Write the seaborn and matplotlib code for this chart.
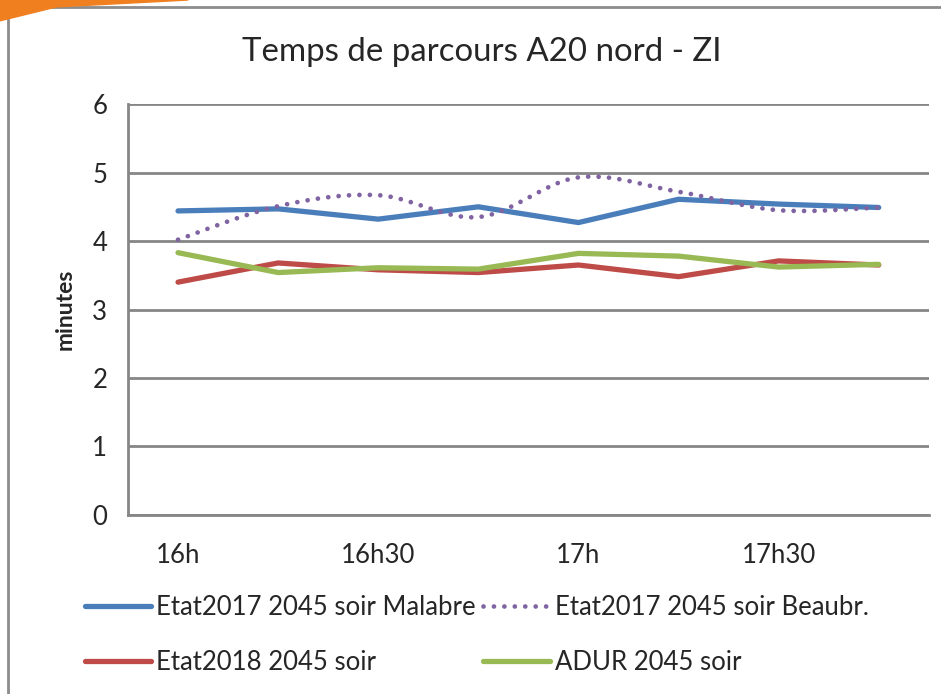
import numpy as np
import pandas as pd
import matplotlib
matplotlib.use('Agg')
import matplotlib.pyplot as plt
import matplotlib.patches as mpatches
import seaborn as sns

# Données (minutes), pas de 15 min
heures = ['16h', '16h15', '16h30', '16h45', '17h', '17h15', '17h30', '17h45']
malabre = [4.44, 4.47, 4.32, 4.50, 4.27, 4.61, 4.54, 4.49]
beaubr = [4.02, 4.51, 4.67, 4.35, 4.93, 4.72, 4.45, 4.49]
etat2018 = [3.40, 3.68, 3.58, 3.54, 3.65, 3.48, 3.71, 3.65]
adur = [3.83, 3.54, 3.61, 3.59, 3.82, 3.78, 3.62, 3.66]
etiquettes = ['16h', '16h30', '17h', '17h30']

series = ['Etat2017 2045 soir Malabre', 'Etat2017 2045 soir Beaubr.',
          'Etat2018 2045 soir', 'ADUR 2045 soir']
couleurs = ['#4A7EBB', '#8064A2', '#BE4B48', '#98B954']

sns.set_style('white')
plt.rcParams['font.family'] = ['Lato', 'DejaVu Sans']


def lissage(x, y, n=20):
    # courbe lissée type Excel (Catmull-Rom)
    x = np.asarray(x, float)
    y = np.asarray(y, float)
    px = np.concatenate([[x[0]], x, [x[-1]]])
    py = np.concatenate([[y[0]], y, [y[-1]]])
    xs, ys = [], []
    for i in range(1, len(px) - 2):
        t = np.linspace(0, 1, n)
        for p, out in ((px, xs), (py, ys)):
            p0, p1, p2, p3 = p[i - 1], p[i], p[i + 1], p[i + 2]
            out.extend(0.5 * ((2 * p1) + (-p0 + p2) * t
                              + (2 * p0 - 5 * p1 + 4 * p2 - p3) * t ** 2
                              + (-p0 + 3 * p1 - 3 * p2 + p3) * t ** 3))
    return np.array(xs), np.array(ys)


pos = np.arange(len(heures))
df = pd.DataFrame({'pos': pos, series[0]: malabre, series[1]: beaubr,
                   series[2]: etat2018, series[3]: adur})

fig = plt.figure(figsize=(9.41, 6.94), dpi=100)
ax = fig.add_axes([0.136, 0.258, 0.851, 0.592])

grid_col = '#868686'
for v in range(0, 7):
    ax.axhline(v, color=grid_col, lw=2, zorder=0)

lw = 3.8
sns.lineplot(data=df, x='pos', y=series[0], color=couleurs[0], lw=lw, ax=ax,
             label=series[0], solid_capstyle='round')
xs, ys = lissage(pos, beaubr)
sns.lineplot(x=xs, y=ys, sort=False, color=couleurs[1], lw=3.4, ax=ax,
             label=series[1], linestyle=(0, (0.01, 2.2)), dash_capstyle='round')
sns.lineplot(data=df, x='pos', y=series[2], color=couleurs[2], lw=lw, ax=ax,
             label=series[2], solid_capstyle='round')
sns.lineplot(data=df, x='pos', y=series[3], color=couleurs[3], lw=lw, ax=ax,
             label=series[3], solid_capstyle='round')

ax.set_xlim(-0.5, len(heures) - 0.5)
ax.set_ylim(0, 6)
ax.set_yticks(range(0, 7))
ax.set_xticks(np.arange(-0.5, len(heures)), minor=True)
ax.set_xticks(pos[::2])
ax.set_xticklabels(etiquettes)
ax.tick_params(axis='x', which='major', length=0, labelsize=18.5, pad=20)
ax.tick_params(axis='x', which='minor', length=8, width=2, color=grid_col,
               direction='out')
ax.tick_params(axis='y', length=8, width=2, color=grid_col, direction='out',
               labelsize=18.5, pad=7)
ax.set_xlabel('')
ax.set_ylabel('minutes', fontsize=16.5, fontweight='bold', labelpad=12)
for s in ['top', 'right']:
    ax.spines[s].set_visible(False)
for s in ['left', 'bottom']:
    ax.spines[s].set_color(grid_col)
    ax.spines[s].set_linewidth(2)

ax.legend_.remove()
handles, labels = ax.get_legend_handles_labels()
order = [0, 2, 1, 3]
fig.legend([handles[i] for i in order], [labels[i] for i in order],
           ncol=2, loc='upper left', bbox_to_anchor=(0.079, 0.157),
           frameon=False, fontsize=18.5, handlelength=2.6, handletextpad=0.18,
           columnspacing=0.3, labelspacing=1.16, borderaxespad=0)

fig.text(0.512, 0.925, 'Temps de parcours A20 nord - ZI', ha='center',
         va='center', fontsize=23.8)

# cadre du graphique
fig.patches.append(mpatches.Rectangle((0.009, -0.05), 1.1, 1.04,
                                      transform=fig.transFigure, fill=False,
                                      edgecolor='#8C8C8C', lw=2))
fig.patches.append(mpatches.Polygon([(0, 1), (0.2, 1), (0.06, 0.99), (0, 0.97)],
                                    closed=True, transform=fig.transFigure,
                                    color='#F07F20'))

fig.savefig('out.png', dpi=100)
